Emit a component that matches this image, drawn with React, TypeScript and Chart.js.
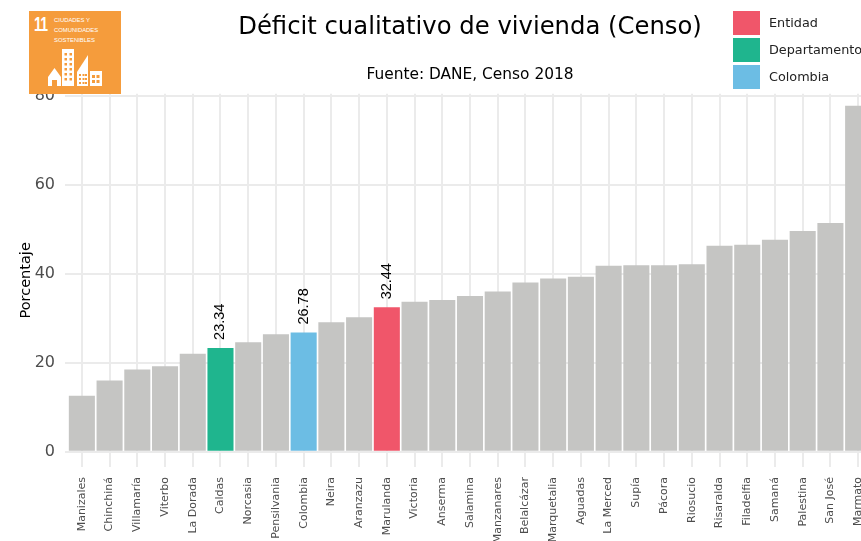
import React, { useEffect, useRef } from "react";
import { Chart, registerables } from "chart.js";

Chart.register(...registerables);

const categories = ["Manizales","Chinchiná","Villamaría","Viterbo","La Dorada","Caldas","Norcasia","Pensilvania","Colombia","Neira","Aranzazu","Marulanda","Victoria","Anserma","Salamina","Manzanares","Belalcázar","Marquetalia","Aguadas","La Merced","Supía","Pácora","Riosucio","Risaralda","Filadelfia","Samaná","Palestina","San José","Marmato"];
const values = [12.6,16,18.5,19.2,22,23.34,24.6,26.4,26.78,29.1,30.2,32.44,33.7,34.1,35,36,38,38.9,39.3,41.8,41.9,41.9,42.1,46.3,46.5,47.6,49.6,51.4,77.7];
const yTicks = [0,20,40,60,80];
const GRAY = "#c5c5c3", RED = "#f0566a", GREEN = "#1fb58e", BLUE = "#6cbde4";
const highlights: Record<string,string> = { Marulanda: RED, Caldas: GREEN, Colombia: BLUE };
const legendItems = [["Entidad", RED],["Departamento", GREEN],["Colombia", BLUE]];
const titleText = "Déficit cualitativo de vivienda (Censo)";
const subtitleText = "Fuente: DANE, Censo 2018";
const FONT = "'DejaVu Sans'";

const valueLabels = {
  id: "valueLabels",
  afterDatasetsDraw(chart: any) {
    const { ctx } = chart;
    const meta = chart.getDatasetMeta(0);
    categories.forEach((c, i) => {
      if (!highlights[c]) return;
      const el = meta.data[i];
      ctx.save();
      ctx.translate(el.x, el.y - 8);
      ctx.rotate(-Math.PI / 2);
      ctx.font = "14.5px 'Liberation Sans'";
      ctx.fillStyle = "#000";
      ctx.textAlign = "left";
      ctx.textBaseline = "middle";
      ctx.fillText(values[i].toFixed(2), 0, 0);
      ctx.restore();
    });
  },
};

function Logo() {
  return (
    <div style={{ position: "absolute", left: 29, top: 11, width: 92, height: 83, background: "#f59c3c", color: "#fff", overflow: "hidden" }}>
      <div style={{ position: "absolute", left: 5, top: 1, fontFamily: "'Liberation Sans'", fontWeight: 700, fontSize: 20, lineHeight: "24px", letterSpacing: -1, transform: "scaleX(0.7)", transformOrigin: "left top" }}>11</div>
      <div style={{ position: "absolute", left: 25, top: 4, fontFamily: "'Liberation Sans'", fontSize: 5.9, lineHeight: "10px", whiteSpace: "nowrap" }}>
        CIUDADES Y<br />COMUNIDADES<br />SOSTENIBLES
      </div>
      <svg width="92" height="83" style={{ position: "absolute", left: 0, top: 0 }}>
        <path d="M19 75V66L25.5 57L32 66V75H28V69H23V75Z" fill="#fff" />
        <rect x="33" y="38" width="12" height="37" fill="#fff" />
        <path d="M48 75V61L59 44V75Z" fill="#fff" />
        <rect x="61" y="60" width="12" height="15" fill="#fff" />
        {[42,47,52,57,62,67].map((y) => [35.5,40.5].map((x) => <rect key={x + "-" + y} x={x} y={y} width="2.5" height="2.5" fill="#f59c3c" />))}
        {[63,67,71].map((y) => [50,53.5,56].map((x) => <rect key={x + "-" + y} x={x} y={y} width="2" height="2" fill="#f59c3c" />))}
        {[64,69].map((y) => [63,67.5].map((x) => <rect key={x + "-" + y} x={x} y={y} width="3" height="3" fill="#f59c3c" />))}
      </svg>
    </div>
  );
}

export default function App() {
  const ref = useRef<HTMLCanvasElement>(null);
  useEffect(() => {
    document.body.style.margin = "0";
    document.body.style.overflow = "hidden";
    const chart = new Chart(ref.current!, {
      type: "bar",
      data: {
        labels: categories,
        datasets: [{
          data: values,
          backgroundColor: categories.map((c) => highlights[c] || GRAY),
          categoryPercentage: 1,
          barPercentage: 0.94,
        }],
      },
      plugins: [valueLabels],
      options: {
        responsive: false,
        animation: false,
        plugins: {
          legend: { display: false },
          tooltip: { enabled: false },
          title: { display: true, text: titleText, color: "#000", font: { family: FONT, size: 24.3, weight: "normal", lineHeight: 1.2 }, padding: { top: 13.5, bottom: 0 } },
          subtitle: { display: true, text: subtitleText, color: "#000", font: { family: FONT, size: 15.4, weight: "normal", lineHeight: 1.2 }, padding: { top: 23, bottom: 9.6 } },
        },
        scales: {
          x: {
            grid: { offset: false, color: "#ebebeb", lineWidth: 2, drawTicks: false },
            border: { display: false },
            afterFit: (s: any) => { s.height = 74; },
            ticks: { autoSkip: false, minRotation: 90, maxRotation: 90, padding: 10, labelOffset: 0, color: "#4d4d4d", font: { family: FONT, size: 11 } },
          },
          y: {
            min: -3.4,
            max: 80.4,
            afterBuildTicks: (s: any) => { s.ticks = yTicks.map((value) => ({ value })); },
            afterFit: (s: any) => { s.width = 68; },
            grid: { color: "#ebebeb", lineWidth: 2, tickLength: 3 },
            border: { display: false },
            title: { display: true, text: "Porcentaje", color: "#000", font: { family: FONT, size: 14.5 }, padding: { top: 18, bottom: 0 } },
            ticks: { padding: 10, color: "#4d4d4d", font: { family: FONT, size: 16 } },
          },
          spacer: {
            position: "right",
            display: true,
            grid: { display: false },
            border: { display: false },
            ticks: { display: false },
            afterFit: (s: any) => { s.width = 68; },
          },
        },
      },
    } as any);
    return () => chart.destroy();
  }, []);
  return (
    <div style={{ position: "relative", width: 861, height: 541, overflow: "hidden" }}>
      <canvas ref={ref} width={940} height={541} style={{ position: "absolute", left: 0, top: 0, width: 940, height: 541 }} />
      <Logo />
      {legendItems.map(([name, color], i) => (
        <React.Fragment key={name}>
          <div style={{ position: "absolute", left: 733, top: 11 + i * 27, width: 27, height: 24, background: color }} />
          <div style={{ position: "absolute", left: 769, top: 11 + i * 27, height: 24, lineHeight: "24px", fontFamily: FONT, fontSize: 12.8, color: "#222", whiteSpace: "nowrap" }}>{name}</div>
        </React.Fragment>
      ))}
    </div>
  );
}
